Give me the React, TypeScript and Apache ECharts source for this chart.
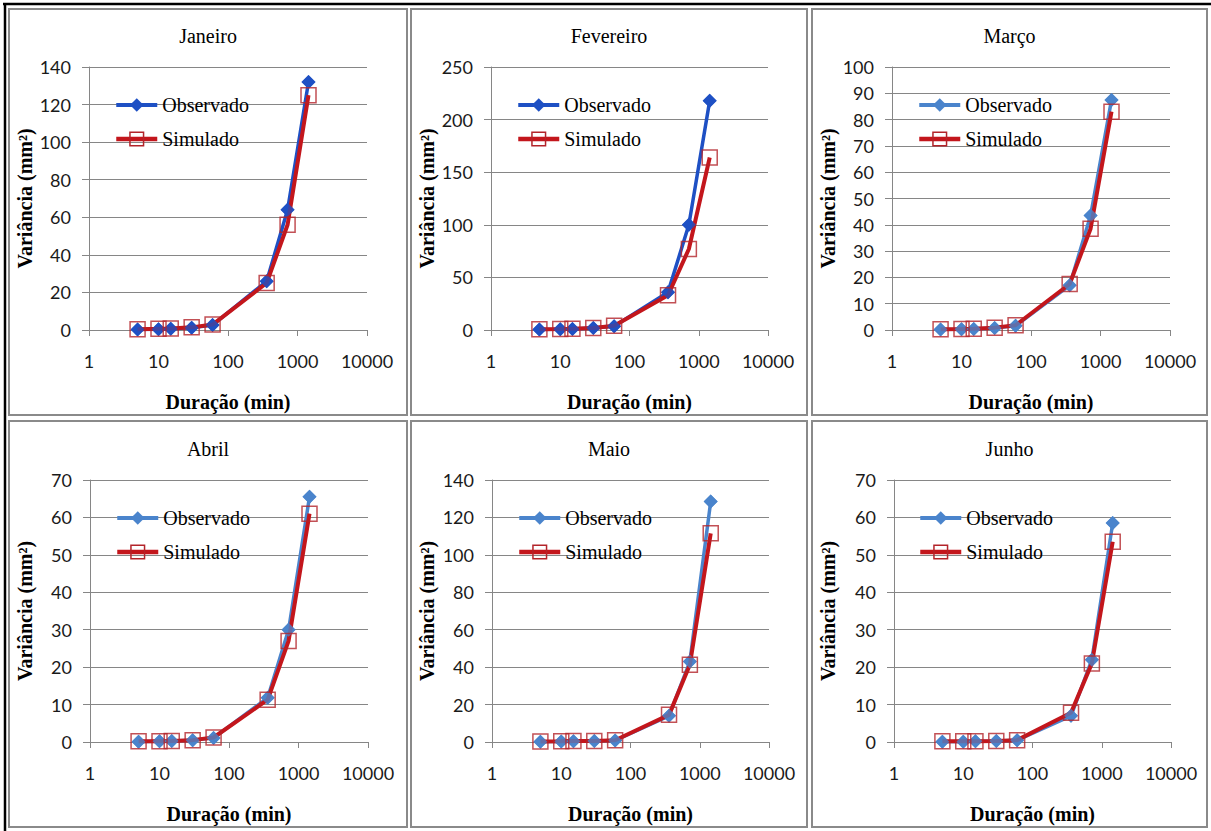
import React, { useEffect, useRef } from "react";
import * as echarts from "echarts";

// ---------- data ----------
const durations = [5, 10, 15, 30, 60, 360, 720, 1440];
const xTickValues = [1, 10, 100, 1000, 10000];
const months = ["Janeiro", "Fevereiro", "Março", "Abril", "Maio", "Junho"];

const obsJan = [0.3, 0.4, 0.6, 1.2, 2.6, 26, 64, 132];
const simJan = [0.4, 0.6, 0.8, 1.4, 2.9, 25, 56, 125];
const obsFev = [0.4, 0.7, 1, 1.8, 3.5, 36, 100, 218];
const simFev = [0.6, 0.9, 1.2, 2, 4, 33, 77, 164];
const obsMar = [0.2, 0.3, 0.4, 0.8, 1.6, 17, 43.5, 87.5];
const simMar = [0.3, 0.4, 0.5, 0.9, 1.8, 17.5, 38.5, 83];
const obsAbr = [0.1, 0.2, 0.3, 0.5, 1.1, 11.8, 30, 65.5];
const simAbr = [0.2, 0.2, 0.3, 0.5, 1.2, 11.3, 27, 61];
const obsMai = [0.2, 0.3, 0.4, 0.5, 0.8, 14, 43, 128.5];
const simMai = [0.3, 0.4, 0.5, 0.6, 0.9, 14.5, 41.3, 111.5];
const obsJun = [0.1, 0.1, 0.2, 0.3, 0.5, 7, 22, 58.5];
const simJun = [0.2, 0.2, 0.2, 0.3, 0.5, 7.8, 21, 53.5];

const observedSets = [obsJan, obsFev, obsMar, obsAbr, obsMai, obsJun];
const simulatedSets = [simJan, simFev, simMar, simAbr, simMai, simJun];

const yMaxes = [140, 250, 100, 70, 140, 70];
const ySteps = [20, 50, 10, 10, 20, 10];

const seriesNames = ["Observado", "Simulado"];
const xAxisTitle = "Duração (min)";
const yAxisTitle = "Variância (mm²)";

// ---------- layout & style ----------
const panels = [
  { px: 9, py: 9, pw: 398, ph: 406, gl: 89, gt: 67, gw: 278, gh: 263, lg: 114, ytx: 25 },
  { px: 411, py: 9, pw: 396, ph: 406, gl: 491, gt: 67, gw: 277, gh: 263, lg: 516, ytx: 427 },
  { px: 812, py: 9, pw: 395, ph: 406, gl: 892, gt: 67, gw: 278, gh: 263, lg: 917, ytx: 828 },
  { px: 9, py: 421, pw: 398, ph: 406, gl: 90, gt: 480, gw: 278, gh: 262, lg: 115, ytx: 25 },
  { px: 411, py: 421, pw: 396, ph: 406, gl: 492, gt: 480, gw: 277, gh: 262, lg: 517, ytx: 427 },
  { px: 812, py: 421, pw: 395, ph: 406, gl: 894, gt: 480, gw: 277, gh: 262, lg: 918, ytx: 828 },
];

const darkBlue = "#1E50C4";
const lightBlue = "#4A84CC";
const blues = [darkBlue, darkBlue, lightBlue, lightBlue, lightBlue, lightBlue];
const red = "#C3161C";
const squareRed = "#B3242A";
const gridGrey = "#868686";
const serif = '"Liberation Serif", "Times New Roman", serif';
const sans = 'Lato, "Liberation Sans", sans-serif';

export default function App() {
  const ref = useRef<HTMLDivElement>(null);

  useEffect(() => {
    document.body.style.margin = "0";
    const chart = echarts.init(ref.current!, null, { renderer: "svg" });

    const grid: any[] = [];
    const xAxis: any[] = [];
    const yAxis: any[] = [];
    const legend: any[] = [];
    const series: any[] = [];
    const graphic: any[] = [];

    // outer black frame (top & left)
    graphic.push({
      type: "line",
      shape: { x1: 3, y1: 4, x2: 1211, y2: 4 },
      style: { stroke: "#000", lineWidth: 2.5 },
    });
    graphic.push({
      type: "line",
      shape: { x1: 5, y1: 3, x2: 5, y2: 831 },
      style: { stroke: "#000", lineWidth: 2.5 },
    });

    const squareStyle = { color: "rgba(0,0,0,0)", borderColor: squareRed, borderWidth: 1.5 };

    panels.forEach((p, i) => {
      const blue = blues[i];
      grid.push({
        left: p.gl,
        top: p.gt,
        width: p.gw,
        height: p.gh,
        containLabel: false,
        outerBoundsMode: "none",
      });
      xAxis.push({
        type: "log",
        logBase: 10,
        gridIndex: i,
        min: xTickValues[0],
        max: xTickValues[xTickValues.length - 1],
        axisLine: { show: true, lineStyle: { color: gridGrey, width: 1 } },
        axisTick: { show: true, length: 6, lineStyle: { color: gridGrey } },
        minorTick: { show: false },
        splitLine: { show: false },
        axisLabel: {
          fontFamily: sans,
          fontSize: 18,
          color: "#1a1a1a",
          margin: 22,
          formatter: (v: number) => String(Math.round(v)),
        },
      });
      yAxis.push({
        type: "value",
        gridIndex: i,
        min: 0,
        max: yMaxes[i],
        interval: ySteps[i],
        axisLine: { show: true, lineStyle: { color: gridGrey, width: 1 } },
        axisTick: { show: true, length: 7, lineStyle: { color: gridGrey } },
        splitLine: { show: true, lineStyle: { color: gridGrey, width: 1 } },
        axisLabel: {
          fontFamily: sans,
          fontSize: 18,
          color: "#1a1a1a",
          margin: 18,
        },
      });
      legend.push({
        orient: "vertical",
        left: p.lg,
        top: p.gt + 28,
        padding: 0,
        itemWidth: 41,
        itemHeight: 17,
        itemGap: 14,
        selectedMode: false,
        textStyle: { fontFamily: serif, fontSize: 20, color: "#000", lineHeight: 20 },
        data: [
          { name: seriesNames[0], itemStyle: { color: blue }, lineStyle: { color: blue, width: 4 } },
          {
            name: seriesNames[1],
            itemStyle: squareStyle,
            lineStyle: { color: red, width: 4.5 },
          },
        ],
      });

      const obsData = durations.map((d, j) => [d, observedSets[i][j]]);
      const simData = durations.map((d, j) => [d, simulatedSets[i][j]]);

      series.push({
        type: "line",
        name: seriesNames[0],
        xAxisIndex: i,
        yAxisIndex: i,
        data: obsData,
        symbol: "diamond",
        symbolSize: 14,
        showSymbol: true,
        lineStyle: { color: blue, width: 3.5 },
        itemStyle: { color: blue },
        z: 2,
        silent: true,
      });
      series.push({
        type: "line",
        name: seriesNames[1],
        xAxisIndex: i,
        yAxisIndex: i,
        data: simData,
        symbol: "rect",
        symbolSize: 15,
        showSymbol: false,
        lineStyle: { color: red, width: 4 },
        itemStyle: squareStyle,
        z: 3,
        silent: true,
      });
      series.push({
        type: "scatter",
        name: seriesNames[0] + " marcadores",
        xAxisIndex: i,
        yAxisIndex: i,
        data: obsData,
        symbol: "diamond",
        symbolSize: 14,
        itemStyle: { color: blue },
        z: 4,
        silent: true,
      });
      series.push({
        type: "scatter",
        name: seriesNames[1] + " marcadores",
        xAxisIndex: i,
        yAxisIndex: i,
        data: simData,
        symbol: "rect",
        symbolSize: 15,
        itemStyle: squareStyle,
        z: 5,
        silent: true,
      });

      // panel frame
      graphic.push({
        type: "rect",
        shape: { x: p.px, y: p.py, width: p.pw, height: p.ph },
        style: { fill: "none", stroke: "#8a8a8a", lineWidth: 2 },
        z: -1,
      });
      // panel title
      graphic.push({
        type: "text",
        x: p.px + p.pw / 2,
        y: p.gt - 31,
        style: {
          text: months[i],
          fontFamily: serif,
          fontSize: 20,
          fill: "#000",
          align: "center",
          verticalAlign: "middle",
          textAlign: "center",
          textVerticalAlign: "middle",
        },
      });
      // x axis title
      graphic.push({
        type: "text",
        x: p.gl + p.gw / 2,
        y: p.gt + p.gh + 72,
        style: {
          text: xAxisTitle,
          fontFamily: serif,
          fontSize: 20,
          fontWeight: "bold",
          fill: "#000",
          align: "center",
          verticalAlign: "middle",
          textAlign: "center",
          textVerticalAlign: "middle",
        },
      });
      // y axis title
      graphic.push({
        type: "text",
        x: p.ytx,
        y: p.gt + p.gh / 2,
        rotation: Math.PI / 2,
        style: {
          text: yAxisTitle,
          fontFamily: serif,
          fontSize: 20,
          fontWeight: "bold",
          fill: "#000",
          align: "center",
          verticalAlign: "middle",
          textAlign: "center",
          textVerticalAlign: "middle",
        },
      });
    });

    chart.setOption({
      animation: false,
      backgroundColor: "#fff",
      grid,
      xAxis,
      yAxis,
      legend,
      series,
      graphic,
    });

    return () => chart.dispose();
  }, []);

  return (
    <div
      ref={ref}
      style={{ position: "absolute", left: 0, top: 0, width: 1211, height: 831 }}
    />
  );
}
